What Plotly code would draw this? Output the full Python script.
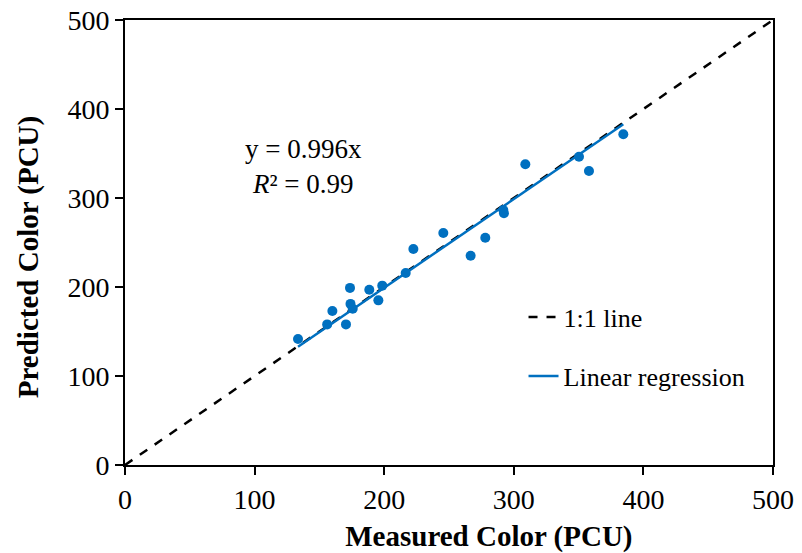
import plotly.graph_objects as go

# Measured vs. predicted color (PCU)
measured = [133.5, 156, 160, 170.5, 173.6, 174, 175.7, 188.5, 195.5, 198.5, 216.6,
            222.5, 245.6, 266.7, 278, 291.9, 292.4, 308.9, 350.3, 358, 384.5]
predicted = [141.5, 158, 173, 158, 199, 181, 175.6, 197, 185, 201.5, 215.7,
             242.7, 260.7, 235.2, 255.4, 286.5, 282.8, 337.9, 346.4, 330.3, 371.6]

slope = 0.996
r_squared = 0.99
axis_range = [0, 500]
tick_vals = [0, 100, 200, 300, 400, 500]

blue = "#0070C0"
font_family = "Liberation Serif, Times New Roman, serif"

fig = go.Figure()

# 1:1 reference line
fig.add_trace(go.Scatter(
    x=axis_range, y=axis_range, mode="lines", name="1:1 line",
    line=dict(color="black", width=2.5, dash="dash"), legendgroup="a",
))

# Fitted regression line through the origin across the measured range
x_fit = [min(measured), max(measured)]
fig.add_trace(go.Scatter(
    x=x_fit, y=[slope * v for v in x_fit], mode="lines", name="Linear regression",
    line=dict(color=blue, width=2.5), legendgroup="b",
))

# Observations
fig.add_trace(go.Scatter(
    x=measured, y=predicted, mode="markers", showlegend=False,
    marker=dict(color=blue, size=10),
))

fig.add_annotation(
    x=0.276, y=0.67, xref="paper", yref="paper", showarrow=False,
    xanchor="center", yanchor="middle",
    text=f"y = {slope}x<br><i>R</i>² = {r_squared}",
    font=dict(family=font_family, size=27, color="black"), align="center",
)

axis_common = dict(
    range=axis_range, tickvals=tick_vals, showgrid=False, zeroline=False,
    showline=True, linecolor="black", linewidth=2, mirror=True,
    ticks="outside", ticklen=8, tickwidth=1.5, tickcolor="black",
    tickfont=dict(family=font_family, size=28, color="black"),
    automargin=False,
)

title_font = dict(family=font_family, size=29, color="black")
pad = "&nbsp;"

fig.update_layout(
    width=802, height=553,
    margin=dict(l=125, r=29, t=20, b=88),
    paper_bgcolor="white", plot_bgcolor="white",
    xaxis=dict(title=dict(text=pad * 11 + "<b>Measured Color (PCU)</b>", standoff=12,
                          font=title_font),
               **axis_common),
    yaxis=dict(title=dict(text="<b>Predicted Color (PCU)</b>" + pad * 4, standoff=20,
                          font=title_font),
               **axis_common),
    legend=dict(x=0.615, y=0.385, xanchor="left", yanchor="top",
                font=dict(family=font_family, size=26, color="black"),
                bgcolor="rgba(0,0,0,0)", tracegroupgap=22),
)

fig.write_html("out.html")
